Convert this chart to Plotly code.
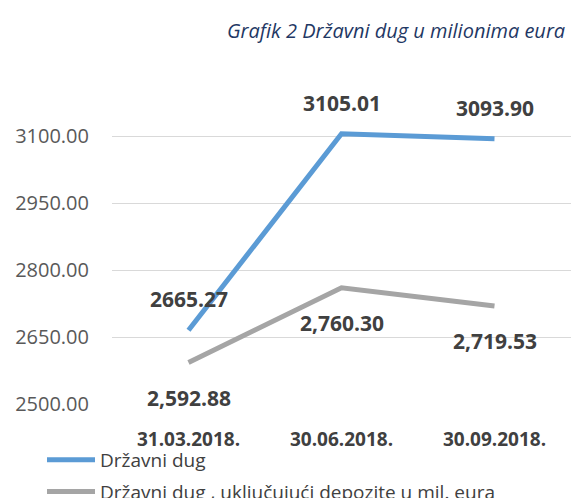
import plotly.graph_objects as go

categories = ["31.03.2018.", "30.06.2018.", "30.09.2018."]
drzavni_dug = [2665.27, 3105.01, 3093.90]
drzavni_dug_dep = [2592.88, 2760.30, 2719.53]
label_dug = ["2665.27", "3105.01", "3093.90"]
label_dep = ["2,592.88", "2,760.30", "2,719.53"]
y_ticks = [2500, 2650, 2800, 2950, 3100]
y_tick_text = ["2500.00", "2650.00", "2800.00", "2950.00", "3100.00"]

FONT = "Open Sans"
fig = go.Figure()
fig.add_trace(go.Scatter(x=categories, y=drzavni_dug, mode="lines", name="Državni dug",
                         line=dict(color="#5B9BD5", width=5), legendgroup="a"))
fig.add_trace(go.Scatter(x=categories, y=drzavni_dug_dep, mode="lines",
                         name="Državni dug , uključujući depozite u mil. eura",
                         line=dict(color="#A5A5A5", width=5), legendgroup="b"))

for c, v, t in zip(categories, drzavni_dug, label_dug):
    fig.add_annotation(x=c, y=v, text=t, showarrow=False, yshift=31,
                       font=dict(family=FONT, size=21, color="#404040", weight="bold"))
for c, v, t in zip(categories, drzavni_dug_dep, label_dep):
    fig.add_annotation(x=c, y=v, text=t, showarrow=False, yshift=-35,
                       font=dict(family=FONT, size=21, color="#404040", weight="bold"))

fig.add_annotation(xref="paper", yref="paper", x=1, y=1, xanchor="right", yanchor="middle",
                   text="<i>Grafik 2 Državni dug u milionima eura</i>", showarrow=False,
                   yshift=48, xshift=-4,
                   font=dict(family=FONT, size=20, color="#1F3864"))

fig.update_layout(
    width=571, height=498,
    margin=dict(l=112, r=0, t=78, b=94, autoexpand=False),
    paper_bgcolor="white", plot_bgcolor="white",
    font=dict(family=FONT),
    showlegend=True,
    legend=dict(xref="container", yref="container", x=42 / 571, y=1 - 441 / 498,
                xanchor="left", yanchor="top", itemwidth=48,
                font=dict(family=FONT, size=19, color="#404040"),
                tracegroupgap=4, bgcolor="rgba(0,0,0,0)"),
    xaxis=dict(type="category", range=[-0.5, 2.5], showgrid=False, showline=False,
               ticks="", ticklabelstandoff=22, automargin=False, tickangle=0,
               tickfont=dict(family=FONT, size=19, color="#404040", weight="bold")),
    yaxis=dict(range=[2500, 3230], tickvals=y_ticks, ticktext=y_tick_text, automargin=False,
               showgrid=True, gridcolor="#D9D9D9", gridwidth=1, zeroline=False,
               showline=False, ticks="", ticklabelstandoff=22,
               tickfont=dict(family=FONT, size=20, color="#595959")),
)
fig.write_html("out.html", config={"displayModeBar": False},
               post_script="document.body.style.margin='0';document.body.style.overflow='hidden';")
